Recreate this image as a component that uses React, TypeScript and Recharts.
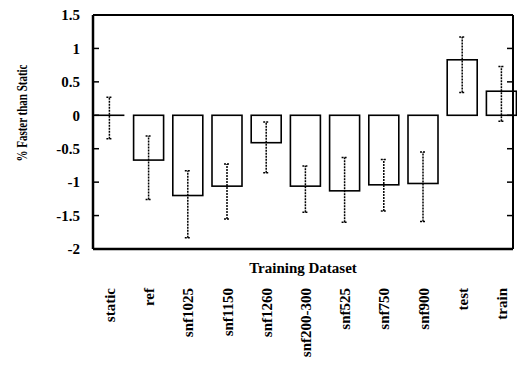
import React from 'react';
import { BarChart, Bar, XAxis, YAxis, ErrorBar, ReferenceLine } from 'recharts';

const datasets = ['static', 'ref', 'snf1025', 'snf1150', 'snf1260', 'snf200-300', 'snf525', 'snf750', 'snf900', 'test', 'train'];
const pctFaster = [0, -0.67, -1.2, -1.06, -0.41, -1.06, -1.13, -1.04, -1.02, 0.83, 0.36];
const errLow = [-0.35, -1.26, -1.83, -1.55, -0.86, -1.45, -1.6, -1.43, -1.59, 0.34, -0.09];
const errHigh = [0.27, -0.31, -0.83, -0.73, -0.1, -0.76, -0.63, -0.66, -0.55, 1.17, 0.73];
const yTicks = [-2, -1.5, -1, -0.5, 0, 0.5, 1, 1.5];

const FONT = '"Liberation Serif", "DejaVu Serif", serif';

// ErrorBar wants [below, above] offsets from the bar value
const chartData = datasets.map((name, i) => ({
  name,
  value: pctFaster[i],
  err: [pctFaster[i] - errLow[i], errHigh[i] - pctFaster[i]],
}));

const OutlineBar = (props: any) => {
  const { x, y, width, height } = props;
  const top = Math.min(y, y + height);
  const h = Math.abs(height);
  if (h < 0.5) {
    return <line x1={x} x2={x + width} y1={y} y2={y} stroke="#000" strokeWidth={1.6} />;
  }
  return <rect x={x} y={top} width={width} height={h} fill="#fff" stroke="#000" strokeWidth={1.6} />;
};

const LeftTick = ({ x, y, payload }: any) => (
  <g>
    <line x1={x} x2={x + 6} y1={y} y2={y} stroke="#000" strokeWidth={1.5} />
    <text x={x - 13} y={y} dy="0.35em" textAnchor="end" fontFamily={FONT} fontWeight="bold" fontSize={15} fill="#000">
      {payload.value}
    </text>
  </g>
);

const RightTick = ({ x, y }: any) => (
  <line x1={x - 6} x2={x} y1={y} y2={y} stroke="#000" strokeWidth={1.5} />
);

const BottomTick = ({ x, y, payload }: any) => {
  const tx = x + 6;
  const ty = y + 39;
  return (
    <text x={tx} y={ty} transform={`rotate(-90 ${tx} ${ty})`} textAnchor="end" fontFamily={FONT} fontWeight="bold" fontSize={15} fill="#000">
      {payload.value}
    </text>
  );
};

const XTitle = ({ viewBox }: any) => (
  <text x={viewBox.x + viewBox.width / 2} y={viewBox.y + 24} textAnchor="middle" fontFamily={FONT} fontWeight="bold" fontSize={15} fill="#000">
    Training Dataset
  </text>
);

const YTitle = ({ viewBox }: any) => {
  const tx = viewBox.x + 27;
  const ty = viewBox.y + 98;
  return (
    <text x={tx} y={ty} transform={`rotate(-90 ${tx} ${ty})`} textAnchor="middle" fontFamily={FONT} fontWeight="bold" fontSize={15} fill="#000" textLength={97} lengthAdjust="spacingAndGlyphs">
      % Faster than Static
    </text>
  );
};

export default function App() {
  return (
    <div style={{ position: 'absolute', left: 0, top: 0, width: 517, height: 368, background: '#fff' }}>
      <BarChart width={517} height={368} data={chartData} margin={{ top: 15, right: 0, bottom: 0, left: 0 }} barSize={30}>
        <XAxis
          dataKey="name"
          height={119}
          interval={0}
          tickSize={0}
          tickMargin={0}
          tickLine={false}
          axisLine={{ stroke: '#000', strokeWidth: 2.5 }}
          tick={<BottomTick />}
          padding={{ left: -3.6, right: -7.6 }}
          label={(p: any) => <XTitle {...p} />}
        />
        <YAxis
          yAxisId="l"
          domain={[-2, 1.5]}
          ticks={yTicks}
          interval={0}
          width={93}
          tickSize={0}
          tickMargin={0}
          tickLine={false}
          axisLine={{ stroke: '#000', strokeWidth: 2.5 }}
          tick={<LeftTick />}
          allowDataOverflow
          label={(p: any) => <YTitle {...p} />}
        />
        <YAxis
          yAxisId="r"
          orientation="right"
          domain={[-2, 1.5]}
          ticks={yTicks}
          interval={0}
          width={4}
          tickSize={0}
          tickMargin={0}
          tickLine={false}
          axisLine={{ stroke: '#000', strokeWidth: 2 }}
          tick={<RightTick />}
          allowDataOverflow
        />
        <ReferenceLine yAxisId="l" y={1.5} stroke="#000" strokeWidth={2} />
        <Bar yAxisId="l" dataKey="value" shape={<OutlineBar />} isAnimationActive={false}>
          <ErrorBar dataKey="err" direction="y" width={3} stroke="#000" strokeWidth={1.5} strokeDasharray="2 1" isAnimationActive={false} />
        </Bar>
      </BarChart>
    </div>
  );
}
